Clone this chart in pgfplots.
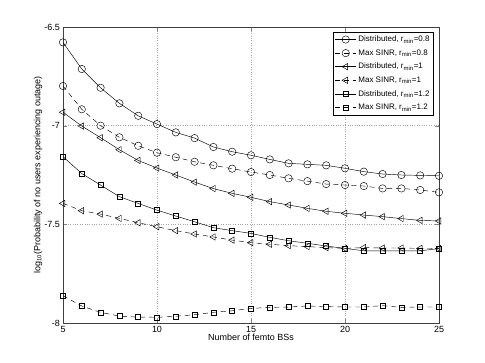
\documentclass[border=0pt]{standalone}
\usepackage{fontspec}
\setmainfont{Liberation Sans}
\usepackage{pgfplots}
\pgfplotsset{compat=1.18}

\pgfplotstableread{
x  d08     m08     d10     m10     d12     m12
5  -6.578  -6.799  -6.932  -7.394  -7.157  -7.862
6  -6.713  -6.917  -7.002  -7.431  -7.243  -7.914
7  -6.808  -7.000  -7.061  -7.448  -7.301  -7.946
8  -6.887  -7.059  -7.122  -7.470  -7.360  -7.965
9  -6.950  -7.102  -7.176  -7.492  -7.394  -7.970
10 -6.992  -7.137  -7.215  -7.512  -7.428  -7.971
11 -7.034  -7.160  -7.250  -7.532  -7.458  -7.966
12 -7.063  -7.183  -7.286  -7.549  -7.487  -7.958
13 -7.108  -7.201  -7.319  -7.564  -7.517  -7.946
14 -7.132  -7.218  -7.343  -7.580  -7.532  -7.938
15 -7.150  -7.235  -7.363  -7.593  -7.546  -7.926
16 -7.171  -7.250  -7.385  -7.601  -7.566  -7.921
17 -7.191  -7.267  -7.402  -7.608  -7.583  -7.919
18 -7.196  -7.281  -7.419  -7.613  -7.596  -7.914
19 -7.201  -7.296  -7.434  -7.618  -7.610  -7.917
20 -7.216  -7.301  -7.444  -7.622  -7.622  -7.919
21 -7.233  -7.306  -7.453  -7.618  -7.634  -7.919
22 -7.245  -7.318  -7.461  -7.620  -7.635  -7.912
23 -7.250  -7.318  -7.471  -7.620  -7.635  -7.921
24 -7.252  -7.326  -7.480  -7.622  -7.634  -7.919
25 -7.254  -7.338  -7.483  -7.623  -7.623  -7.919
}\datatab

\begin{document}
\fontsize{9}{11}\selectfont
\begin{tikzpicture}
\begin{axis}[
  at={(0,0)}, anchor=south west,
  scale only axis, width=376bp, height=296bp,
  xmin=5, xmax=25, ymin=-8, ymax=-6.5,
  xtick={5,10,15,20,25}, ytick={-8,-7.5,-7,-6.5},
  yticklabels={-8,-7.5,-7,-6.5},
  tick align=inside, major tick length=4bp,
  axis line style={black!75, line width=0.6pt},
  grid=major, grid style={black!35, dotted, line width=0.4pt},
  /pgf/number format/assume math mode=true,
  tick label style={font=\fontsize{9}{11}\selectfont},
  label style={font=\fontsize{9}{11}\selectfont},
  xlabel={Number of femto BSs},
  ylabel={log\textsubscript{10}(Probability of no users experiencing outage)},
  xlabel style={yshift=5bp},
  ylabel style={yshift=-4bp},
  legend style={at={(0.986,0.984)}, anchor=north east, draw=black,
    line width=0.5pt, font=\fontsize{8}{9.5}\selectfont, row sep=2.6pt,
    inner sep=2pt, fill=white},
  legend cell align=left,
  legend image code/.code={
    \draw[mark repeat=2,mark phase=2] plot coordinates {(0bp,0bp) (10.5bp,0bp) (21bp,0bp)};},
  every axis plot/.append style={black, line width=0.45pt,
    mark size=3.7bp, mark options={solid, fill=none}},
  mydash/.style={dash pattern=on 5bp off 4bp},
]
\addplot[mark=o] table[x=x,y=d08] {\datatab};
\addlegendentry{Distributed, r\textsubscript{min}=0.8}
\addplot[mydash, mark=o] table[x=x,y=m08] {\datatab};
\addlegendentry{Max SINR, r\textsubscript{min}=0.8}
\addplot[mark=triangle, mark options={rotate=90, solid}] table[x=x,y=d10] {\datatab};
\addlegendentry{Distributed, r\textsubscript{min}=1}
\addplot[mydash, mark=triangle, mark options={rotate=90, solid}] table[x=x,y=m10] {\datatab};
\addlegendentry{Max SINR, r\textsubscript{min}=1}
\addplot[mark=square, mark size=2.5bp] table[x=x,y=d12] {\datatab};
\addlegendentry{Distributed, r\textsubscript{min}=1.2}
\addplot[mydash, mark=square, mark size=2.5bp] table[x=x,y=m12] {\datatab};
\addlegendentry{Max SINR, r\textsubscript{min}=1.2}
\end{axis}
\pgfresetboundingbox
\useasboundingbox (-63bp,-40bp) rectangle (422bp,323bp);
\end{tikzpicture}
\end{document}
